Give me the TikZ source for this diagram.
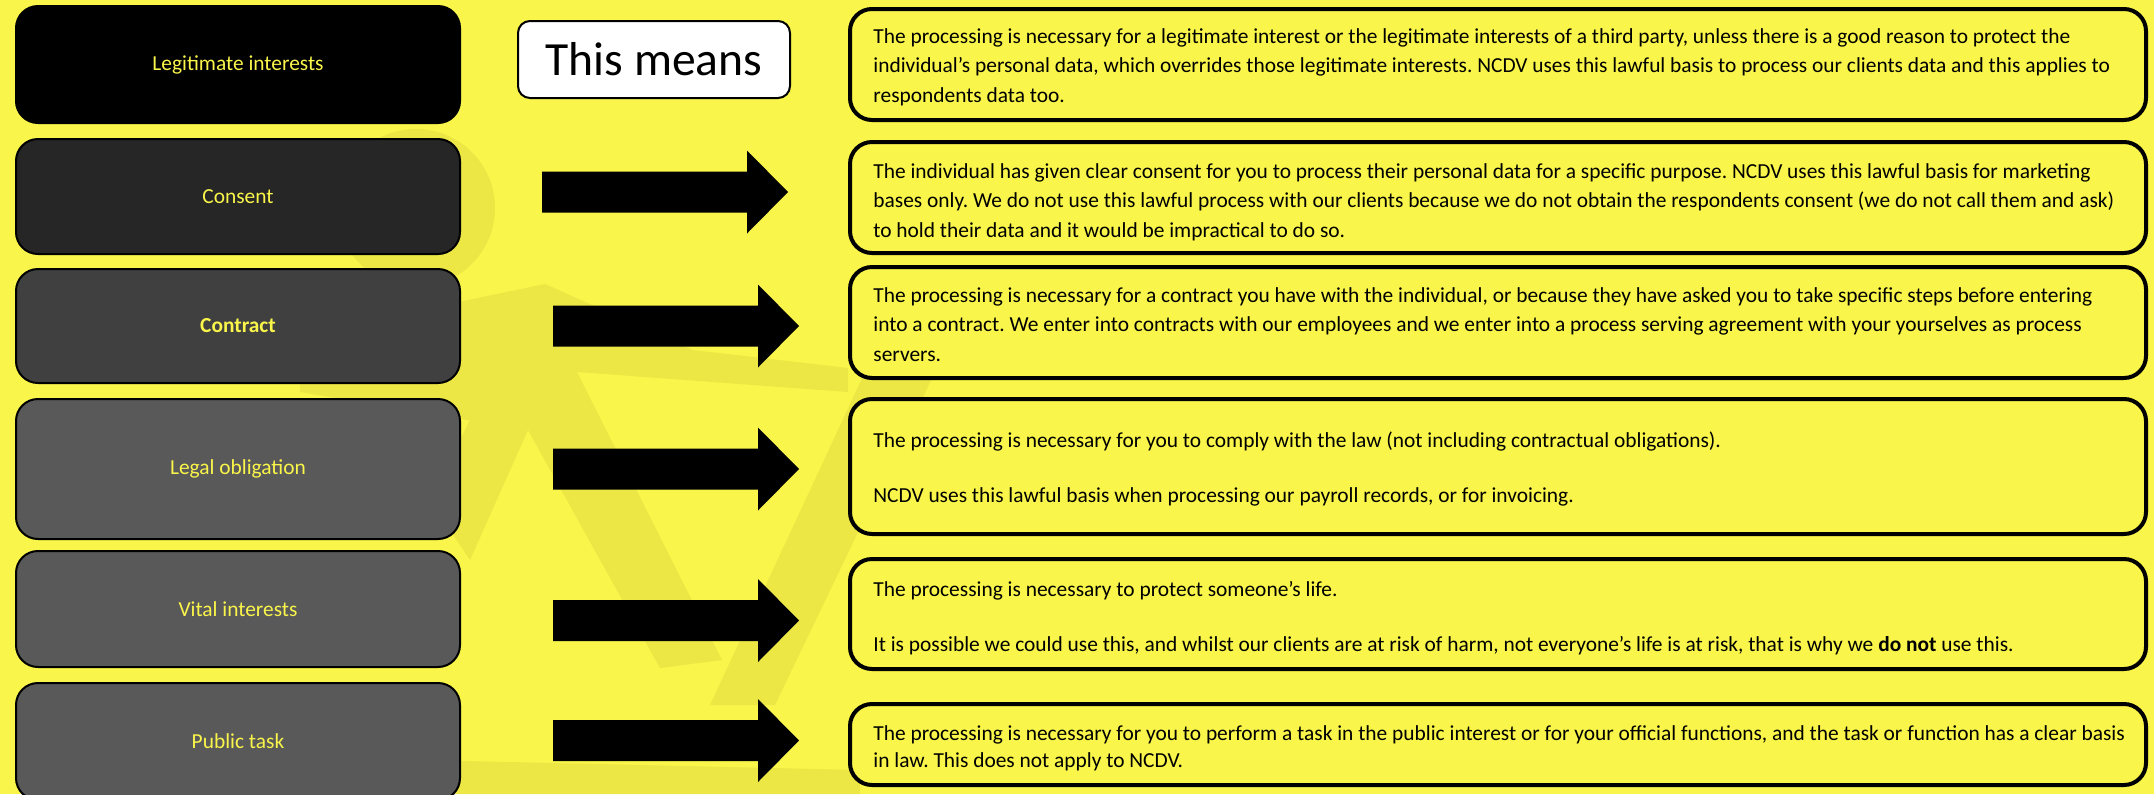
\documentclass[tikz,border=0pt]{standalone}
\usepackage{fontspec}
\setmainfont{Carlito}
\usetikzlibrary{calc}
\frenchspacing

\definecolor{bgyellow}{HTML}{F9F54A}
\definecolor{markyellow}{HTML}{ECE744}
\definecolor{shadeA}{HTML}{000000}
\definecolor{shadeB}{HTML}{262626}
\definecolor{shadeC}{HTML}{404040}
\definecolor{shadeD}{HTML}{595959}

\tikzset{
  basis/.style={draw=black, line width=1pt, rounded corners=11pt,
    minimum width=222pt, inner sep=0pt, text=bgyellow,
    font=\fontsize{10.7}{13}\selectfont},
  meaning/.style={draw=black, fill=bgyellow, line width=2pt, rounded corners=11pt,
    minimum width=648pt, inner sep=0pt},
  meantext/.style={anchor=base west, inner sep=0pt, text=black,
    font=\fontsize{10.7}{14.75}\selectfont},
  headbox/.style={draw=black, fill=white, line width=1pt, rounded corners=6pt,
    minimum width=136pt, minimum height=38.5pt, inner sep=0pt,
    font=\fontsize{23.8}{28}\selectfont}
}

% solid block arrow starting at the left end of its shaft
\newcommand\drawblockarrow[1]{%
  \fill[black] (#1) ++(0,-20.5) -- ++(205,0) -- ++(0,-21) -- ++(41,41.5)
    -- ++(-41,41.5) -- ++(0,-21) -- ++(-205,0) -- cycle;}

\newcommand\meanpar[1]{\parbox[t]{645pt}{\raggedright #1}}

\begin{document}
\begin{tikzpicture}[x=0.5pt,y=-0.5pt]
\useasboundingbox (0,0) rectangle (2154,794);
\clip (0,0) rectangle (2154,794);
\fill[bgyellow] (0,0) rectangle (2154,794);

% faint emblem in the background
\begin{scope}[markyellow]
  \fill (416,208) circle[radius=79];
  \fill (300,335) -- (545,284) -- (693,350) -- (848,368) -- (848,392)
        -- (577,372) -- (528,430) -- (300,392) -- cycle;
  \fill (528,430) -- (577,372) -- (722,660) -- (660,668) -- cycle;
  \fill (865,372) -- (935,372) -- (775,705) -- (710,705) -- cycle;
  \fill (470,420) -- (528,430) -- (470,560) -- (430,500) -- cycle;
  \fill (300,794) -- (420,760) -- (860,770) -- (860,794) -- cycle;
\end{scope}

% lawful bases
\node[basis, fill=shadeA, minimum height=58.5pt] (legit)    at (238,64.5)  {Legitimate interests};
\node[basis, fill=shadeB, minimum height=57.5pt] (consent)  at (238,196.5) {Consent};
\node[basis, fill=shadeC, minimum height=57pt]   (contract) at (238,326)   {\textbf{Contract}};
\node[basis, fill=shadeD, minimum height=70pt]   (legal)    at (238,469)   {Legal obligation};
\node[basis, fill=shadeD, minimum height=58pt]   (vital)    at (238,609)   {Vital interests};
\node[basis, fill=shadeD, minimum height=58.5pt] (public)   at (238,741.5) {Public task};

% heading
\node[headbox] (means) at (654,59.5) {This means};

% arrows
\coordinate (a2) at (542,192);
\coordinate (a3) at (553,326);
\coordinate (a4) at (553,469);
\coordinate (a5) at (553,620.5);
\coordinate (a6) at (553,740.5);
\drawblockarrow{a2}
\drawblockarrow{a3}
\drawblockarrow{a4}
\drawblockarrow{a5}
\drawblockarrow{a6}

% explanations
\node[meaning, minimum height=55.5pt] (m1) at (1498,64.5)  {};
\node[meaning, minimum height=55.5pt] (m2) at (1498,197.5) {};
\node[meaning, minimum height=55.5pt] (m3) at (1498,322.5) {};
\node[meaning, minimum height=67.5pt] (m4) at (1498,466.5) {};
\node[meaning, minimum height=55pt]   (m5) at (1498,614)   {};
\node[meaning, minimum height=40.5pt] (m6) at (1498,744.5) {};

\node[meantext] (t1) at (873,43) {\meanpar{The processing is necessary for a legitimate interest or the legitimate interests of a third party, unless there is a good reason to protect the\\
individual’s personal data, which overrides those legitimate interests. NCDV uses this lawful basis to process our clients data and this applies to\\
respondents data too.}};
\node[meantext] (t2) at (873,178) {\meanpar{The individual has given clear consent for you to process their personal data for a specific purpose. NCDV uses this lawful basis for marketing\\
bases only. We do not use this lawful process with our clients because we do not obtain the respondents consent (we do not call them and ask)\\
to hold their data and it would be impractical to do so.}};
\node[meantext] (t3) at (873,302) {\meanpar{The processing is necessary for a contract you have with the individual, or because they have asked you to take specific steps before entering\\
into a contract. We enter into contracts with our employees and we enter into a process serving agreement with your yourselves as process\\
servers.}};
\node[meantext] (t4) at (873,447) {\meanpar{The processing is necessary for you to comply with the law (not including contractual obligations).\\[12.75pt]
NCDV uses this lawful basis when processing our payroll records, or for invoicing.}};
\node[meantext] (t5) at (873,596) {\meanpar{The processing is necessary to protect someone’s life.\\[12.75pt]
It is possible we could use this, and whilst our clients are at risk of harm, not everyone’s life is at risk, that is why we \textbf{do not} use this.}};
\node[meantext] (t6) at (873,740) {\meanpar{\fontsize{10.7}{13.6}\selectfont The processing is necessary for you to perform a task in the public interest or for your official functions, and the task or function has a clear basis\\
in law. This does not apply to NCDV.}};
\end{tikzpicture}
\end{document}
